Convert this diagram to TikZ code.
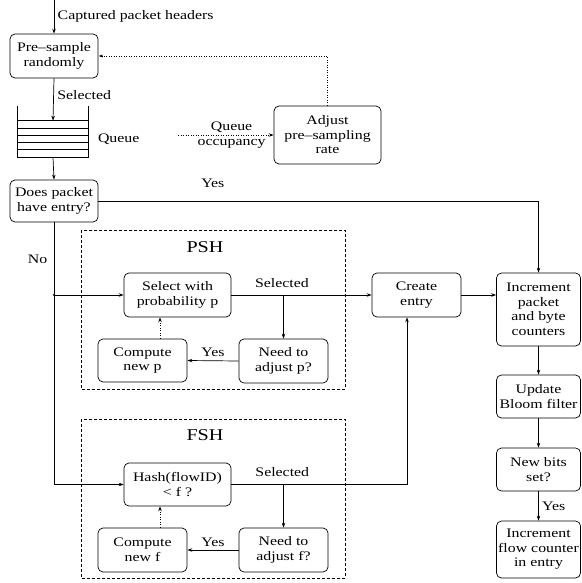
\documentclass[tikz,border=0pt]{standalone}
\usepackage{fontspec}
\setmainfont{Liberation Serif}[FakeStretch=1.22]
\usetikzlibrary{arrows.meta,positioning}
\newcommand\boxfont{\fontsize{13}{14.5}\selectfont}
\newcommand\groupfont{\fontsize{16.5}{18}\selectfont}

\begin{document}
\begin{tikzpicture}[x=1pt,y=-1pt,line width=0.7pt,font=\boxfont,
  >={Stealth[length=5pt,width=3.5pt]},
  box/.style={draw,rounded corners=5pt,align=center,inner sep=1pt},
  dotline/.style={dash pattern=on 1pt off 1.5pt},
  group/.style={dash pattern=on 3pt off 2pt}]
  \useasboundingbox (0,0) rectangle (581,583);
  % input and pre-sampling
  \coordinate (in) at (54,0);
  \node[box,minimum width=88pt,minimum height=44pt] (pre) at (54,56) {Pre--sample\\randomly};
  \node[minimum width=70pt,minimum height=36pt,inner sep=0pt] (queue) at (53,139) {};
  \draw ([yshift=15pt]queue.north west) -- (queue.south west) -- (queue.south east) -- ([yshift=15pt]queue.north east);
  \foreach \k in {0,...,4}
    \draw ([yshift=-\k*7.2pt]queue.north west) -- ([yshift=-\k*7.2pt]queue.north east);
  \node[right=6pt of queue] (qlabel) {Queue};
  \node[box,minimum width=88pt,minimum height=42pt] (does) at (54,201) {Does packet\\have entry?};
  \node[box,minimum width=107pt,minimum height=58pt] (adjust) at (327.5,135) {Adjust\\pre--sampling\\rate};
  \coordinate (occ) at (178,135);
  % PSH and FSH
  \draw[group] (81,230) rectangle (345,389);
  \node[font=\groupfont] (psh) at (205,247) {PSH};
  \draw[group] (81,419) rectangle (345,578);
  \node[font=\groupfont] (fsh) at (205,435) {FSH};
  \node[box,minimum width=107pt,minimum height=44pt] (select) at (177.5,295) {Select with\\probability p};
  \node[box,minimum width=89pt,minimum height=44pt] (needp) at (283.5,361) {Need to\\adjust p?};
  \node[box,minimum width=89pt,minimum height=43pt] (compp) at (142.5,360.5) {Compute\\new p};
  \node[box,minimum width=107pt,minimum height=43pt] (hash) at (177.5,484.5) {Hash(flowID)\\< f ?};
  \node[box,minimum width=89pt,minimum height=44pt] (needf) at (283.5,550) {Need to\\adjust f?};
  \node[box,minimum width=89pt,minimum height=44pt] (compf) at (142.5,550) {Compute\\new f};
  % right column
  \node[box,minimum width=89pt,minimum height=44pt] (create) at (416.5,295) {Create\\entry};
  \node[box,minimum width=84pt,minimum height=73pt] (incp) at (538.5,309.5) {Increment\\packet\\and byte\\counters};
  \node[box,minimum width=84pt,minimum height=43pt] (update) at (538.5,396.5) {Update\\Bloom filter};
  \node[box,minimum width=84pt,minimum height=43pt] (newbits) at (538.5,469.5) {New bits\\set?};
  \node[box,minimum width=84pt,minimum height=57pt] (incf) at (538.5,549.5) {Increment\\flow counter\\in entry};
  \coordinate (split) at (does.south |- select.west);
  % connectors
  \draw[->] (in) -- node[right] {Captured packet headers} (pre.north);
  \draw[->] (pre.south) -- node[pos=0.4,right] {Selected} (queue.north);
  \draw[->] (queue.south) -- (does.north);
  \draw[->,dotline] (occ) -- node[pos=0.56,align=center] {Queue\\occupancy} (adjust.west);
  \draw[-{Latex[open,length=4pt,width=3pt]},dotline] (adjust.north) |- (pre.east);
  \draw[->] (does.east) -| node[pos=0.13,above=10pt] {Yes} (incp.north);
  \draw[->] (does.south) |- node[pos=0.07,left=3pt] {No} (hash.west);
  \fill (split) circle (1.2pt);
  \draw[->] (split) -- (select.west);
  \draw[->] (select.east) -- node[pos=0.36,above=4pt] {Selected} (create.west);
  \draw[->] (needp.north |- select.east) -- (needp.north);
  \draw[->] (needp.west) -- node[above] {Yes} (compp.east);
  \draw[->,dotline] ([xshift=17.5pt]compp.north) -- ([xshift=-17.5pt]select.south);
  \draw[->] (hash.east) -| node[pos=0.145,above=4pt] {Selected} ([xshift=-9.5pt]create.south);
  \draw[->] (needf.north |- hash.east) -- (needf.north);
  \draw[->] (needf.west) -- node[above] {Yes} (compf.east);
  \draw[->,dotline] ([xshift=17.5pt]compf.north) -- ([xshift=-17.5pt]hash.south);
  \draw[->] (create.east) -- (create.east -| incp.west);
  \draw[->] (incp.south) -- (update.north);
  \draw[->] (update.south) -- (newbits.north);
  \draw[->] (newbits.south) -- node[right] {Yes} (incf.north);
\end{tikzpicture}
\end{document}
